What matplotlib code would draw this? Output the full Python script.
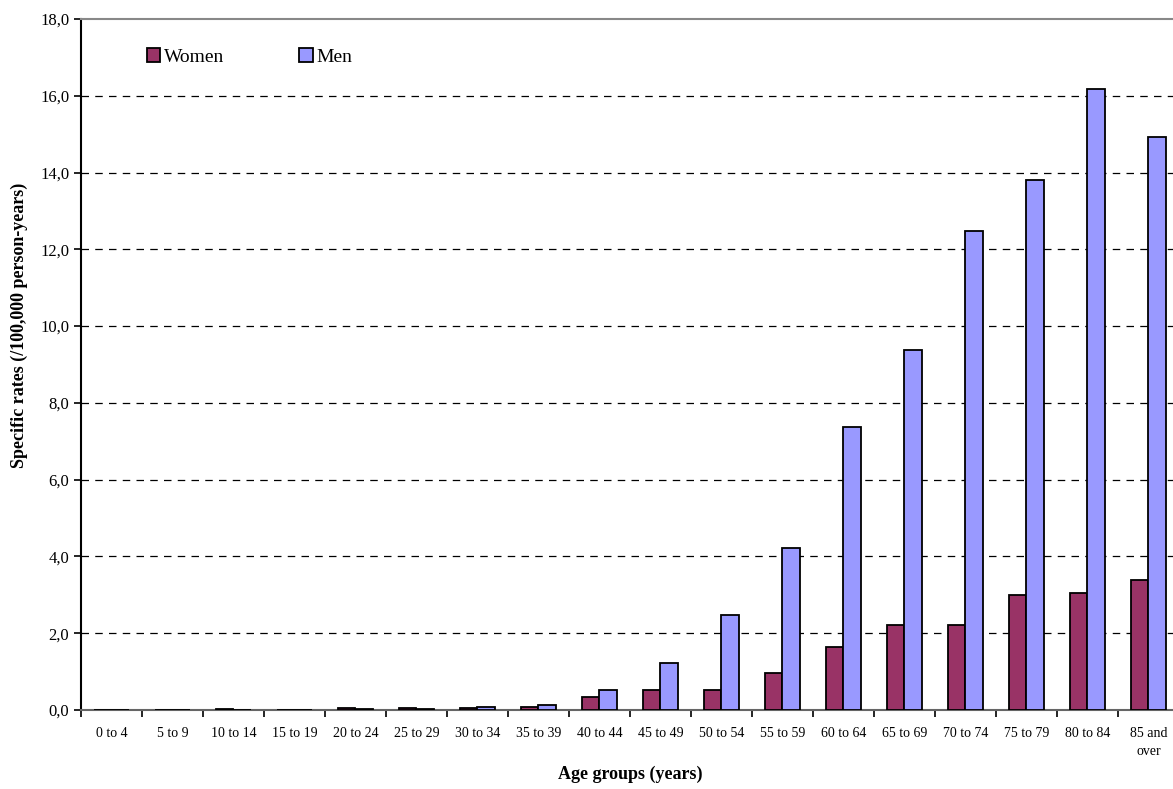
import numpy as np
import matplotlib
matplotlib.use("Agg")
import matplotlib.pyplot as plt

# age groups
groups = ["0 to 4", "5 to 9", "10 to 14", "15 to 19", "20 to 24", "25 to 29",
          "30 to 34", "35 to 39", "40 to 44", "45 to 49", "50 to 54", "55 to 59",
          "60 to 64", "65 to 69", "70 to 74", "75 to 79", "80 to 84", "85 and\nover"]

# specific rates (/100,000 person-years)
women = [0.0, 0.0, 0.02, 0.01, 0.05, 0.05, 0.05, 0.09, 0.35, 0.51, 0.53, 0.97,
         1.63, 2.21, 2.22, 2.99, 3.06, 3.38]
men = [0.0, 0.0, 0.0, 0.0, 0.02, 0.02, 0.08, 0.12, 0.51, 1.22, 2.47, 4.23,
       7.37, 9.38, 12.47, 13.81, 16.18, 14.93]

yticks = np.arange(0, 18.1, 2)

plt.rcParams['font.family'] = ['Liberation Serif', 'DejaVu Serif']

fig = plt.figure(figsize=(11.73, 7.89), dpi=100)
ax = fig.add_axes([0.069, 0.1001, 0.936, 0.8758])

x = np.arange(len(groups))
w = 0.29
ax.bar(x - w/2, women, w, color="#993366", edgecolor="black", linewidth=1.3,
       label="Women", zorder=3)
ax.bar(x + w/2, men, w, color="#9999FF", edgecolor="black", linewidth=1.3,
       label="Men", zorder=3)

ax.set_xlim(-0.5, len(groups) - 0.5)
ax.set_ylim(0, 18)

# lignes de grille
for yv in yticks[1:-1]:
    ax.axhline(yv, color="black", linestyle=(0, (6, 5)), linewidth=0.9, zorder=1)

ax.set_yticks(yticks)
ax.set_yticklabels([("%.1f" % v).replace(".", ",") for v in yticks])
ax.tick_params(axis="y", labelsize=12, direction="out", length=5, width=1.2)

ax.set_xticks(x)
ax.set_xticklabels(groups, fontsize=10, linespacing=1.5, va="top")
ax.set_xticks(np.arange(-0.5, len(groups), 1), minor=True)
ax.tick_params(axis="x", which="major", length=0, pad=12)
ax.tick_params(axis="x", which="minor", direction="out", length=5, width=1.2)

ax.spines["right"].set_visible(False)
ax.spines["top"].set_color("#888888")
ax.spines["top"].set_linewidth(1.5)
ax.spines["left"].set_linewidth(1.5)
ax.spines["bottom"].set_color("#666666")
ax.spines["bottom"].set_linewidth(1.5)

ax.set_ylabel("Specific rates (/100,000 person-years)", fontsize=13,
              fontweight="bold")
ax.yaxis.set_label_coords(-0.048, 0.557)
ax.set_xlabel("Age groups (years)", fontsize=13, fontweight="bold", labelpad=6)

leg = ax.legend(loc="upper left", bbox_to_anchor=(0.044, 0.983), ncol=2,
                frameon=False, fontsize=14, handlelength=0.7, handleheight=0.7,
                handletextpad=0.2, columnspacing=3.85)

fig.savefig("out.png", dpi=100)
